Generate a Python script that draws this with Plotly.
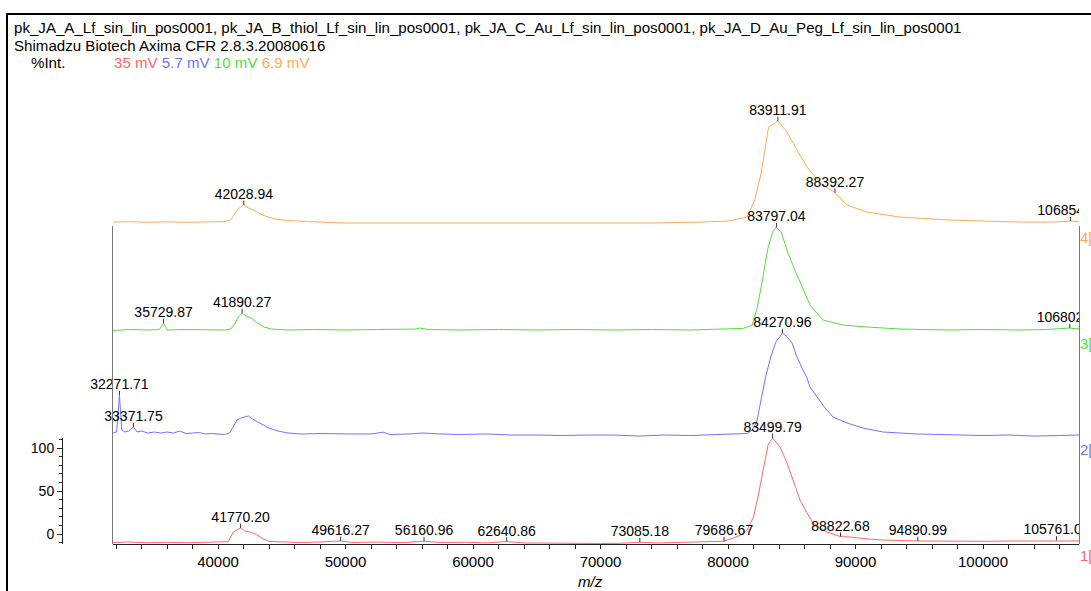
import plotly.graph_objects as go
import numpy as np

# ---------------- data (m/z, %Int as read on the left axis) ----------------
mz_red = [31765, 33000, 34500, 36000, 37500, 39000, 40300, 40800, 41200, 41770.20, 42100, 42500,
          43000, 43500, 44000, 45000, 46500, 48000, 49616.27, 50500, 52500, 54500, 56160.96, 57500,
          59500, 61000, 62640.86, 64000, 66000, 68000, 70000, 71500, 73085.18, 74500, 76000, 77800,
          79000, 79686.67, 80400, 81000, 81500, 82000, 82350, 82750, 83140, 83499.79, 84080, 84630,
          85100, 85650, 86200, 86670, 87200, 87770, 88822.68, 89570, 91000, 92160, 94890.99, 97400,
          100000, 102500, 104000, 105761.05, 107530]
int_red = [-9.9, -9.3, -10.2, -9.6, -10.1, -9.5, -9.8, -9.0, 2.3, 7.0, 3.5, 2.3,
           -0.6, -5.2, -8.7, -9.5, -9.9, -9.3, -8.1, -9.8, -9.4, -10.0, -8.4, -9.9,
           -9.6, -10.3, -8.8, -10.4, -10.8, -11.0, -11.0, -10.8, -9.6, -10.4, -9.8, -9.3,
           -8.8, -8.4, -4.7, -1.2, 4.7, 19.8, 43.0, 74.4, 103.5, 111.6, 101.2, 82.6,
           62.8, 39.5, 24.4, 12.8, 7.0, 2.3, -3.0, -3.5, -5.8, -7.0, -8.1, -8.7,
           -8.5, -8.1, -8.0, -7.5, -8.1]

mz_blue = [31765, 32050, 32271.71, 32450, 32700, 33000, 33371.75, 33650, 34000, 34500, 35000, 35500,
           36000, 36500, 37000, 37500, 38000, 38500, 39000, 39500, 40000, 40500, 40900, 41200,
           41500, 41800, 42100, 42400, 42700, 43000, 43500, 44000, 44700, 45500, 46500, 48000,
           50500, 52000, 52940, 53500, 55000, 56080, 57500, 59000, 61000, 63000, 65000, 67000,
           69000, 71000, 73000, 75000, 77000, 79000, 80400, 81500, 81900, 82250, 82600, 82950,
           83350, 83750, 84270.96, 84650, 85020, 85410, 85880, 86200, 86430, 86980, 87610, 88240,
           89330, 90590, 92160, 94820, 97400, 100000, 102000, 104000, 106000, 107530]
int_blue = [-7.0, -5.8, 37.2, -3.5, -5.8, -4.7, 0.0, -5.8, -4.7, -7.0, -5.8, -7.0,
            -5.8, -7.0, -4.7, -7.6, -7.0, -6.4, -8.1, -7.6, -8.1, -8.7, -7.0, 0.0,
            8.1, 10.5, 11.6, 12.8, 9.3, 7.0, 3.5, -1.2, -4.7, -7.0, -8.1, -7.6,
            -8.1, -8.1, -6.0, -8.7, -8.1, -7.0, -8.1, -8.7, -8.1, -9.3, -9.3, -9.9,
            -9.3, -9.3, -10.5, -9.3, -9.9, -9.3, -8.1, -7.6, -3.5, 5.8, 31.4, 58.1,
            81.4, 98.8, 109.3, 104.7, 97.7, 81.4, 66.3, 57.0, 46.5, 34.9, 22.1, 11.6,
            4.7, -1.2, -5.8, -8.1, -9.3, -9.9, -9.3, -10.5, -9.9, -9.3]

mz_green = [31765, 33000, 34500, 35400, 35729.87, 36000, 37500, 39000, 40500, 41000, 41300, 41600,
            41890.27, 42200, 42600, 43000, 43600, 44200, 45500, 47500, 50000, 52500, 55500, 55800,
            56500, 59000, 62000, 65000, 68000, 71000, 74000, 77000, 81200, 81900, 82300, 82700,
            83100, 83500, 83797.04, 84200, 84700, 85250, 85800, 86430, 87450, 89020, 90900, 93500,
            97400, 100000, 103000, 105000, 106802.10, 107530]
int_green = [-12.2, -11.0, -11.6, -11.0, -3.5, -11.6, -11.0, -11.6, -11.6, -10.5, -4.7, 3.5,
             8.1, 4.7, 2.3, -2.3, -8.1, -10.5, -11.6, -11.0, -11.6, -11.0, -10.5, -9.3,
             -11.0, -11.6, -11.0, -11.6, -11.0, -11.6, -11.0, -11.6, -9.7, -5.8, 15.1, 46.5,
             81.4, 102.3, 108.1, 101.2, 77.9, 58.1, 38.4, 17.4, 0.0, -5.8, -8.1, -10.5,
             -11.6, -11.0, -11.6, -11.0, -9.3, -10.5]

mz_orange = [31765, 33000, 34500, 36000, 37500, 39000, 40500, 41000, 41400, 41750, 42028.94, 42400,
             42800, 43200, 43700, 44500, 45500, 47000, 50000, 54000, 58000, 62000, 66000, 70000,
             74000, 77800, 80000, 81500, 82100, 82600, 82950, 83180, 83911.91, 84620, 85410, 86200,
             87220, 88392.27, 89330, 90900, 93500, 97400, 100000, 103000, 105500, 106854.66, 107530]
int_orange = [-10.5, -10.0, -10.8, -10.2, -10.8, -10.2, -9.9, -8.1, 1.2, 7.0, 9.3, 5.8,
              3.5, 0.0, -3.5, -7.0, -8.7, -9.9, -11.6, -11.6, -11.6, -12.2, -12.2, -12.2,
              -11.6, -10.5, -9.3, -4.7, 15.1, 46.5, 81.4, 100.0, 107.0, 94.2, 73.3, 53.5,
              34.9, 23.5, 9.3, 1.2, -4.7, -8.1, -9.3, -10.5, -10.5, -9.3, -9.9]

series_names = ["1", "2", "3", "4"]
series_volts = ["35 mV", "5.7 mV", "10 mV", "6.9 mV"]

label_series = [3, 3, 3, 3, 2, 2, 2, 2, 1, 1, 1, 0, 0, 0, 0, 0, 0, 0, 0, 0, 0]
label_text = ["42028.94", "83911.91", "88392.27", "106854.66",
              "35729.87", "41890.27", "83797.04", "106802.10",
              "32271.71", "33371.75", "84270.96",
              "41770.20", "49616.27", "56160.96", "62640.86", "73085.18", "79686.67",
              "83499.79", "88822.68", "94890.99", "105761.05"]

x_ticks_major = 10000
x_ticks_minor = 2000

# ---------------- styling ----------------
W, H = 1091, 591
FONT = "Liberation Sans, Arial, sans-serif"
colors = ["#ff6666", "#7373ff", "#55dd3c", "#ffaa55"]
offsets = [0.0, 124.4, 248.8, 373.2]      # vertical stacking (in %Int units)

px_per_unit = 0.86
y0_px = 534.0                              # screen row of 0 %
def ypix_to_val(p):
    return (y0_px - p) / px_per_unit

ax_left, ax_right = 113, 1079
ax_bottom, frame_top = 544, 226

def px(p):   # screen x -> paper
    return p / W
def py(p):   # screen y -> paper
    return 1 - p / H

mz_all = [mz_red, mz_blue, mz_green, mz_orange]
int_all = [int_red, int_blue, int_green, int_orange]

fig = go.Figure()
for k in [3, 2, 1, 0]:
    fig.add_trace(go.Scatter(
        x=mz_all[k], y=np.array(int_all[k]) + offsets[k], mode="lines",
        line=dict(color=colors[k], width=1), showlegend=False, hoverinfo="skip"))

# peak labels
lab_x, lab_y, lab_t, tick_y, clip_flags = [], [], [], [], []
for s, t in zip(label_series, label_text):
    m = float(t)
    xs = np.array(mz_all[s])
    i = int(np.argmin(np.abs(xs - m)))
    v = int_all[s][i] + offsets[s]
    lab_x.append(m)
    lab_y.append(v + 11.0)
    tick_y.append(v + 2.5)
    lab_t.append(t)
    clip_flags.append(m > 100000)

for clip in [False, True]:
    idx = [i for i in range(len(lab_t)) if clip_flags[i] == clip]
    fig.add_trace(go.Scatter(
        x=[lab_x[i] for i in idx], y=[lab_y[i] for i in idx],
        text=[lab_t[i] for i in idx], mode="text", textposition="middle center",
        textfont=dict(family=FONT, size=14, color="black"),
        cliponaxis=clip, showlegend=False, hoverinfo="skip"))
fig.add_trace(go.Scatter(
    x=lab_x, y=tick_y, mode="markers",
    marker=dict(symbol="line-ns", size=3, line=dict(color="#333", width=1)),
    cliponaxis=False, showlegend=False, hoverinfo="skip"))

# empty traces to instantiate helper axes
fig.add_trace(go.Scatter(x=[], y=[], yaxis="y2", showlegend=False, hoverinfo="skip"))
fig.add_trace(go.Scatter(x=[], y=[], yaxis="y3", showlegend=False, hoverinfo="skip"))

xr_lo = 40000 + (ax_left - 218) * 78.43
xr_hi = 40000 + (ax_right - 218) * 78.43

fig.update_layout(
    width=W, height=H, margin=dict(l=0, r=0, t=0, b=0),
    template="none", paper_bgcolor="white", plot_bgcolor="rgba(0,0,0,0)",
    font=dict(family=FONT, size=15, color="black"),
    showlegend=False,
    xaxis=dict(domain=[px(ax_left), px(ax_right)], range=[xr_lo, xr_hi], anchor="y",
               showline=True, linecolor="#222", linewidth=1, mirror=False,
               ticks="outside", ticklen=4, tickcolor="#222", tick0=0, dtick=x_ticks_major,
               tickformat="d", tickfont=dict(size=15), showgrid=False, zeroline=False,
               automargin=False,
               minor=dict(tick0=0, dtick=x_ticks_minor, ticks="outside", ticklen=4,
                          tickcolor="#222", showgrid=False)),
    yaxis=dict(domain=[py(ax_bottom), 1], range=[ypix_to_val(ax_bottom), ypix_to_val(0)],
               visible=False, automargin=False),
    yaxis2=dict(domain=[py(ax_bottom), py(438)],
                range=[ypix_to_val(ax_bottom), ypix_to_val(438)],
                anchor="free", position=px(62), side="left",
                showline=True, linecolor="#222", linewidth=1,
                ticks="outside", ticklen=5, tickcolor="#222", tick0=0, dtick=50,
                tickfont=dict(size=14), showgrid=False, zeroline=False, automargin=False,
                minor=dict(tick0=0, dtick=10, ticks="outside", ticklen=3, tickcolor="#222",
                           showgrid=False)),
    yaxis3=dict(domain=[py(ax_bottom), py(frame_top)], range=[0, 1], anchor="x",
                showline=True, mirror=True, linecolor="#777", linewidth=1,
                ticks="", showticklabels=False, showgrid=False, zeroline=False,
                automargin=False),
)

# outer black frame
fig.add_shape(type="rect", xref="paper", yref="paper", x0=px(7), x1=1.02, y0=-0.02, y1=py(14),
              line=dict(color="black", width=2), fillcolor="rgba(0,0,0,0)", layer="above")

ann = []
ann.append(dict(x=px(12), y=py(28), text="pk_JA_A_Lf_sin_lin_pos0001, pk_JA_B_thiol_Lf_sin_lin_pos0001, "
                "pk_JA_C_Au_Lf_sin_lin_pos0001, pk_JA_D_Au_Peg_Lf_sin_lin_pos0001"))
ann.append(dict(x=px(12), y=py(46), text="Shimadzu Biotech Axima CFR 2.8.3.20080616"))
ann.append(dict(x=px(29), y=py(63), text="%Int."))
volts = "&nbsp;".join(f'<span style="color:{colors[k]}">{series_volts[k]}</span>' for k in range(4))
ann.append(dict(x=px(112), y=py(63), text=volts))
ann.append(dict(x=px(590), y=py(581), text="<i>m/z</i>", xanchor="center"))
for k, ypx in zip(range(4), [555, 450, 343, 237]):
    ann.append(dict(x=px(1078), y=py(ypx), text=series_names[k] + "[",
                    font=dict(color=colors[k], size=15)))
for a in ann:
    a.setdefault("xanchor", "left")
    a.update(xref="paper", yref="paper", yanchor="middle", showarrow=False)
    a.setdefault("font", dict(size=15.1, color="black"))
fig.update_layout(annotations=ann)

fig.write_html("out.html",
               config={"displayModeBar": False},
               post_script="document.body.style.margin='0px';"
                           "document.body.style.overflow='hidden';")
